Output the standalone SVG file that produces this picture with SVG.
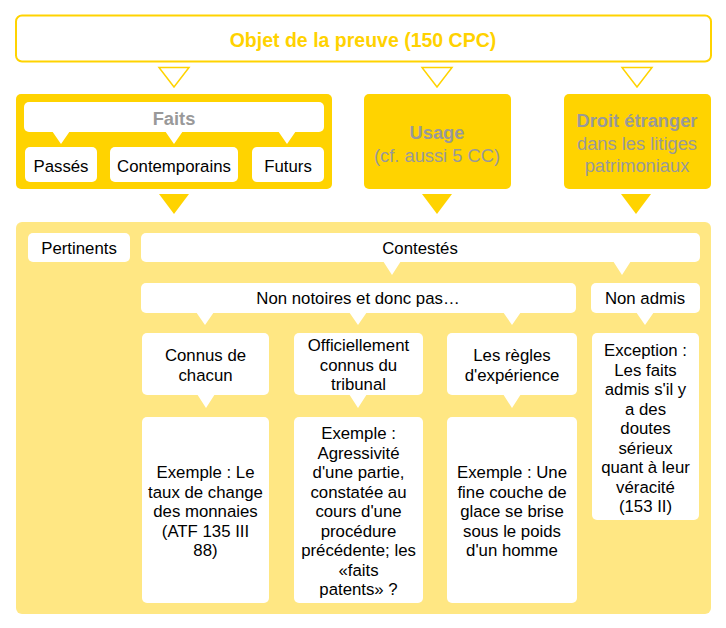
<svg xmlns="http://www.w3.org/2000/svg" width="726" height="628" viewBox="0 0 726 628">
<style>
text{font-family:"Liberation Sans",Arial,Helvetica,sans-serif;text-anchor:middle}
.t{font-size:16.8px;fill:#000}
.title{font-size:19.5px;font-weight:bold;fill:#FFD200}
.g{font-size:18.3px;fill:#999}
.gb{font-size:18.3px;fill:#999;font-weight:bold}
.w{fill:#fff}
.y{fill:#FFD300}
.ly{fill:#FFE783}
.hollow{fill:#fff;stroke:#FFD300;stroke-width:1.5}
</style>
<rect width="726" height="628" fill="#fff"/>
<g id="top">
<rect x="16" y="15.5" width="695" height="46" rx="6" fill="#fff" stroke="#FFD300" stroke-width="2"/>
<text class="title" x="363" y="47">Objet de la preuve (150 CPC)</text>
</g>
<g id="faits">
<rect class="y" x="16" y="94" width="316" height="95" rx="5"/>
<rect class="w" x="24" y="102" width="300" height="30" rx="5"/>
<text class="gb" x="174" y="124.5">Faits</text>
<path class="w" d="M52 131 L70 131 L61 144 Z M165 131 L183 131 L174 144 Z M278 131 L296 131 L287 144 Z"/>
<rect class="w" x="25" y="147" width="72" height="35" rx="5"/>
<text class="t" x="61" y="172">Passés</text>
<rect class="w" x="110" y="147" width="128" height="35" rx="5"/>
<text class="t" x="174" y="172">Contemporains</text>
<rect class="w" x="252" y="147" width="72" height="35" rx="5"/>
<text class="t" x="288" y="172">Futurs</text>
</g>
<g id="usage">
<rect class="y" x="364" y="94" width="147" height="95" rx="5"/>
<text class="gb" x="437" y="138.5">Usage</text>
<text class="g" x="437" y="161.5">(cf. aussi 5 CC)</text>
</g>
<g id="droit">
<rect class="y" x="564" y="94" width="147" height="95" rx="5"/>
<text class="gb" x="637" y="126.5">Droit étranger</text>
<text class="g" x="637" y="149.5">dans les litiges</text>
<text class="g" x="637" y="171.5">patrimoniaux</text>
</g>
<g id="area">
<rect class="ly" x="16" y="222" width="695" height="392" rx="6"/>
</g>
<g id="pertinents">
<rect class="w" x="28" y="233" width="102" height="29" rx="5"/>
<text class="t" x="79" y="254">Pertinents</text>
</g>
<g id="contestes">
<rect class="w" x="141" y="233" width="559" height="29" rx="5"/>
<text class="t" x="420" y="254">Contestés</text>
</g>
<g id="nonnotoires">
<rect class="w" x="141" y="283" width="435" height="30" rx="5"/>
<text class="t" x="358" y="304">Non notoires et donc pas…</text>
</g>
<g id="nonadmis">
<rect class="w" x="591" y="283" width="109" height="30" rx="5"/>
<text class="t" x="645" y="304">Non admis</text>
</g>
<g id="connus">
<rect class="w" x="142" y="333" width="127" height="62" rx="5"/>
<text class="t" x="205.5" y="361">Connus de</text>
<text class="t" x="205.5" y="381">chacun</text>
</g>
<g id="officiellement">
<rect class="w" x="294" y="333" width="129" height="62" rx="5"/>
<text class="t" x="358.5" y="351">Officiellement</text>
<text class="t" x="358.5" y="370.5">connus du</text>
<text class="t" x="358.5" y="390">tribunal</text>
</g>
<g id="regles">
<rect class="w" x="447" y="333" width="130" height="62" rx="5"/>
<text class="t" x="512" y="361">Les règles</text>
<text class="t" x="512" y="381">d'expérience</text>
</g>
<g id="exception">
<rect class="w" x="592" y="333" width="107" height="187" rx="5"/>
<text class="t" x="645.5" y="356">Exception :</text>
<text class="t" x="645.5" y="375.5">Les faits</text>
<text class="t" x="645.5" y="395">admis s'il y</text>
<text class="t" x="645.5" y="414.5">a des</text>
<text class="t" x="645.5" y="434">doutes</text>
<text class="t" x="645.5" y="453.5">sérieux</text>
<text class="t" x="645.5" y="473">quant à leur</text>
<text class="t" x="645.5" y="492.5">véracité</text>
<text class="t" x="645.5" y="512">(153 II)</text>
</g>
<g id="exemple1">
<rect class="w" x="142" y="417" width="127" height="186" rx="5"/>
<text class="t" x="205.5" y="478">Exemple : Le</text>
<text class="t" x="205.5" y="497.5">taux de change</text>
<text class="t" x="205.5" y="517">des monnaies</text>
<text class="t" x="205.5" y="536.5">(ATF 135 III</text>
<text class="t" x="205.5" y="556">88)</text>
</g>
<g id="exemple2">
<rect class="w" x="294" y="417" width="129" height="186" rx="5"/>
<text class="t" x="358.5" y="439">Exemple :</text>
<text class="t" x="358.5" y="458.5">Agressivité</text>
<text class="t" x="358.5" y="478">d'une partie,</text>
<text class="t" x="358.5" y="497.5">constatée au</text>
<text class="t" x="358.5" y="517">cours d'une</text>
<text class="t" x="358.5" y="536.5">procédure</text>
<text class="t" x="358.5" y="556">précédente; les</text>
<text class="t" x="358.5" y="575.5">«faits</text>
<text class="t" x="358.5" y="595">patents» ?</text>
</g>
<g id="exemple3">
<rect class="w" x="447" y="417" width="130" height="186" rx="5"/>
<text class="t" x="512" y="478">Exemple : Une</text>
<text class="t" x="512" y="497.5">fine couche de</text>
<text class="t" x="512" y="517">glace se brise</text>
<text class="t" x="512" y="536.5">sous le poids</text>
<text class="t" x="512" y="556">d'un homme</text>
</g>
<g id="connectors">
<path class="hollow" d="M159 67.5 L189 67.5 L174 87 Z M422 67.5 L452 67.5 L437 87 Z M622 67.5 L652 67.5 L637 87 Z"/>
<path class="y" d="M159 194 L189 194 L174 214 Z M422 194 L452 194 L437 214 Z M621 194 L651 194 L636 214 Z"/>
<path class="w" d="M383 261 L401 261 L392 275 Z M613 261 L631 261 L622 275 Z M196 312 L214 312 L205 325 Z M349 312 L367 312 L358 325 Z M503 312 L521 312 L512 325 Z M636 312 L654 312 L645 325 Z M197 394 L215 394 L206 408 Z M349 394 L367 394 L358 408 Z M503 394 L521 394 L512 408 Z"/>
</g>
</svg>
